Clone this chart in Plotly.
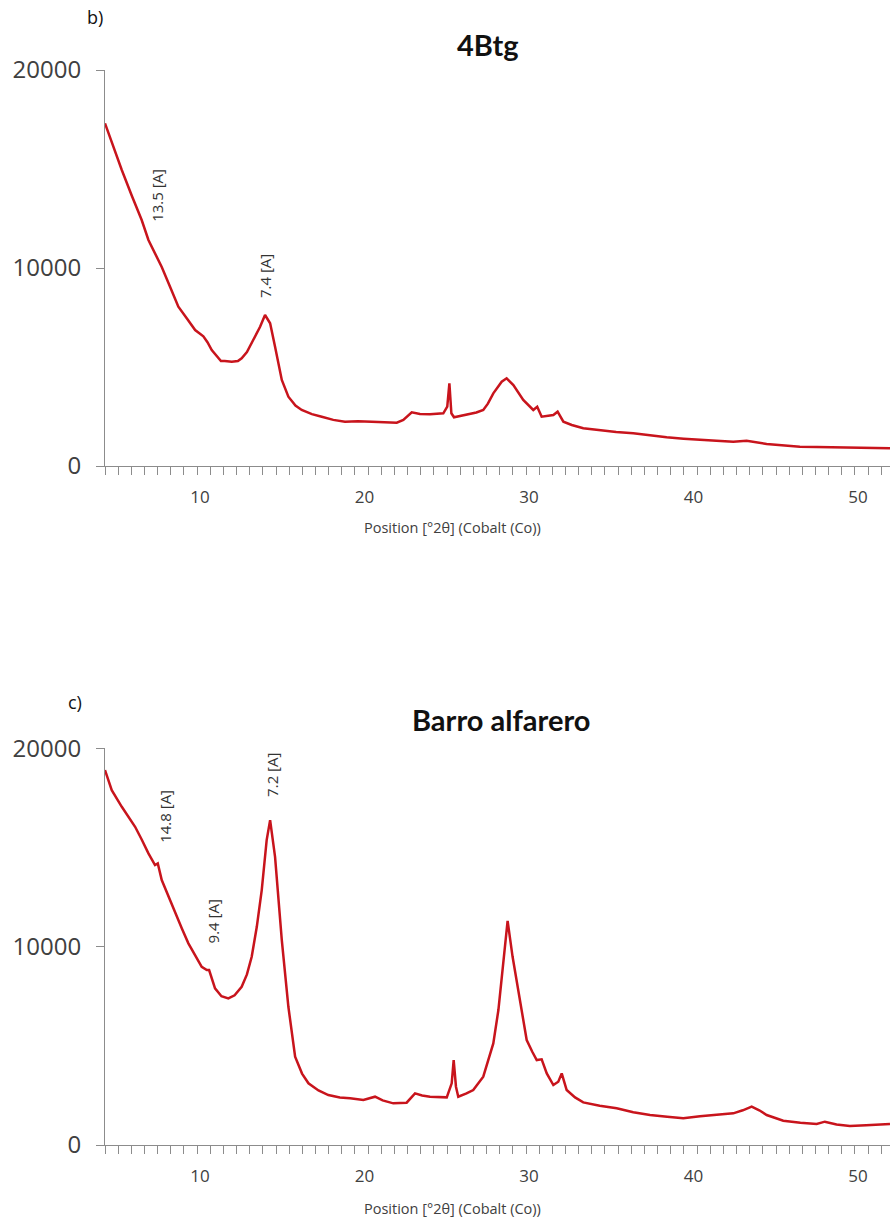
import plotly.graph_objects as go

# ---------------- data ----------------
two_theta_4btg = [4.22, 4.7, 5.24, 5.85, 6.45, 6.86, 7.47, 7.67, 8.2, 8.68, 9.2, 9.7, 10.2, 10.45, 10.71,
                  11.0, 11.27, 11.5, 11.93, 12.3, 12.53, 12.85, 13.14, 13.45, 13.65, 13.95, 14.26, 14.56,
                  14.97, 15.37, 15.8, 16.18, 16.8, 17.4, 18.1, 18.81, 19.6, 20.44, 21.2, 21.96, 22.36,
                  22.87, 23.37, 23.98, 24.79, 25.03, 25.16, 25.28, 25.44, 26.21, 26.8, 27.22, 27.5,
                  27.83, 28.34, 28.64, 29.05, 29.65, 30.26, 30.5, 30.77, 31.48, 31.74, 32.09, 32.6,
                  33.3, 34.32, 35.3, 36.34, 37.4, 38.37, 39.4, 40.4, 41.4, 42.42, 43.23, 44.45, 45.5,
                  46.47, 47.5, 48.5, 49.5, 50.53, 51.95]
counts_4btg = [17306, 16150, 14948, 13650, 12423, 11413, 10403, 10050, 9000, 8045, 7450, 6868, 6550, 6250, 5858,
               5560, 5300, 5300, 5267, 5300, 5439, 5750, 6196, 6700, 7035, 7626, 7206, 6025,
               4343, 3500, 3050, 2828, 2620, 2490, 2330, 2237, 2260, 2237, 2200, 2187, 2323,
               2712, 2626, 2611, 2661, 2995, 4176, 2661, 2459, 2576, 2700, 2828, 3150,
               3671, 4257, 4429, 4091, 3333, 2828, 2995, 2490, 2576, 2742, 2237, 2071,
               1904, 1800, 1720, 1651, 1540, 1449, 1380, 1313, 1270, 1227, 1278, 1111, 1040,
               975, 955, 944, 915, 894, 894]

two_theta_barro = [4.22, 4.63, 5.24, 5.65, 6.05, 6.45, 6.86, 7.26, 7.43, 7.67, 8.1, 8.48, 8.9, 9.29, 9.7,
                   10.1, 10.41, 10.55, 10.91, 11.3, 11.72, 12.1, 12.53, 12.85, 13.14, 13.45, 13.75, 14.05,
                   14.26, 14.56, 14.97, 15.37, 15.78, 16.2, 16.59, 17.2, 17.8, 18.5, 19.12, 19.93, 20.64,
                   21.1, 21.75, 22.56, 23.07, 23.5, 23.98, 24.5, 25.0, 25.3, 25.42, 25.56, 25.7, 26.2,
                   26.61, 27.22, 27.83, 28.14, 28.45, 28.7, 29.0, 29.45, 29.86, 30.2, 30.47, 30.77, 31.08,
                   31.48, 31.78, 31.99, 32.29, 32.8, 33.3, 34.3, 35.33, 36.34, 37.36, 38.4, 39.38, 40.4,
                   41.0, 41.61, 42.42, 43.0, 43.54, 44.0, 44.45, 45.46, 46.5, 47.49, 47.99, 48.7, 49.51,
                   50.5, 51.95]
counts_barro = [18900, 17892, 17051, 16550, 16043, 15400, 14702, 14112, 14197, 13356, 12500, 11678, 10900, 10166, 9550,
                8986, 8820, 8820, 7898, 7500, 7394, 7550, 7978, 8600, 9490, 11000, 12852, 15372,
                16380, 14530, 10332, 6970, 4450, 3600, 3110, 2750, 2520, 2400, 2352, 2268, 2436,
                2250, 2100, 2134, 2604, 2500, 2436, 2420, 2402, 3108, 4284, 2940, 2436, 2600,
                2772, 3444, 5124, 6804, 9500, 11300, 9500, 7308, 5292, 4700, 4284, 4319, 3612,
                3024, 3192, 3612, 2772, 2400, 2150, 1980, 1848, 1650, 1512, 1420, 1344, 1450,
                1500, 1562, 1596, 1750, 1932, 1750, 1512, 1227, 1120, 1058, 1176, 1030, 958,
                990, 1058]

labels_4btg = ["13.5 [A]", "7.4 [A]"]
label_x_4btg = [7.37, 13.95]
label_y_4btg = [13685, 9595]

labels_barro = ["14.8 [A]", "9.4 [A]", "7.2 [A]"]
label_x_barro = [7.87, 10.81, 14.36]
label_y_barro = [16546, 11290, 18648]

panel_titles = ["4Btg", "Barro alfarero"]
panel_letters = ["b)", "c)"]
x_title = "Position [°2θ] (Cobalt (Co))"
x_ticks = [10, 20, 30, 40, 50]

# ---------------- layout helpers ----------------
W, H = 890, 1219
ML = 105


def py(px):
    return 1 - px / H


def pxx(px):
    return (px - ML) / (W - ML)


line_color = "#C8141C"
axis_color = "#8C8C8C"
text_color = "#404040"

fig = go.Figure()
fig.add_trace(go.Scatter(x=two_theta_4btg, y=counts_4btg, mode="lines",
                         line=dict(color=line_color, width=2.5), xaxis="x", yaxis="y",
                         showlegend=False, hoverinfo="x+y"))
fig.add_trace(go.Scatter(x=two_theta_barro, y=counts_barro, mode="lines",
                         line=dict(color=line_color, width=2.5), xaxis="x2", yaxis="y2",
                         showlegend=False, hoverinfo="x+y"))

xrange = [4.22, 51.95]


def xaxis_cfg(anchor):
    return dict(range=xrange, anchor=anchor, domain=[0, 1], showline=True, linecolor=axis_color,
                linewidth=1, ticks="", tickvals=x_ticks, tickfont=dict(size=17, color=text_color,
                                                                        family="Open Sans"),
                ticklabelstandoff=16, showgrid=False, zeroline=False, automargin=False,
                minor=dict(ticks="outside", ticklen=8, tickcolor=axis_color, tick0=xrange[0],
                           dtick=0.8, showgrid=False))


def yaxis_cfg(anchor, dom):
    return dict(range=[0, 20000], anchor=anchor, domain=dom, showline=True, linecolor=axis_color,
                linewidth=1, ticks="outside", ticklen=8, tickcolor=axis_color,
                tickmode="linear", tick0=0, dtick=10000, tickformat="d",
                tickfont=dict(size=24, color=text_color, family="Open Sans"),
                ticklabelstandoff=10, showgrid=False, zeroline=False, automargin=False)


annotations = []
for txt, lx, ly in zip(labels_4btg, label_x_4btg, label_y_4btg):
    annotations.append(dict(text=txt, x=lx, y=ly, xref="x", yref="y", showarrow=False,
                            textangle=-90, font=dict(size=15, color="#333333", family="Open Sans")))
for txt, lx, ly in zip(labels_barro, label_x_barro, label_y_barro):
    annotations.append(dict(text=txt, x=lx, y=ly, xref="x2", yref="y2", showarrow=False,
                            textangle=-90, font=dict(size=15, color="#333333", family="Open Sans")))

# titles
for t, cx, cy in zip(panel_titles, [488, 501], [44, 719]):
    annotations.append(dict(text="<b>" + t + "</b>", x=pxx(cx), y=py(cy), xref="paper", yref="paper",
                            showarrow=False, xanchor="center", yanchor="middle",
                            font=dict(size=29, color="#111111", family="Lato")))
for t, cx, cy in zip(panel_letters, [95, 75], [17, 702]):
    annotations.append(dict(text=t, x=pxx(cx), y=py(cy), xref="paper", yref="paper",
                            showarrow=False, xanchor="center", yanchor="middle",
                            font=dict(size=18, color="#111111", family="Open Sans")))
for cy in [527, 1208]:
    annotations.append(dict(text=x_title, x=pxx(452), y=py(cy), xref="paper", yref="paper",
                            showarrow=False, xanchor="center", yanchor="middle",
                            font=dict(size=14.5, color=text_color, family="Open Sans")))

fig.update_layout(
    width=W, height=H,
    margin=dict(l=ML, r=0, t=0, b=0, autoexpand=False),
    paper_bgcolor="white", plot_bgcolor="white",
    xaxis=xaxis_cfg("y"),
    yaxis=yaxis_cfg("x", [py(466), py(70)]),
    xaxis2=xaxis_cfg("y2"),
    yaxis2=yaxis_cfg("x2", [py(1145), py(748.3)]),
    annotations=annotations,
    showlegend=False,
)

fig.write_html("out.html")
